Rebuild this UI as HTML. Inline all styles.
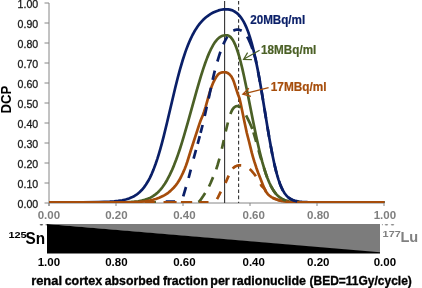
<!DOCTYPE html><html><head><meta charset="utf-8"><style>html,body{margin:0;padding:0;background:#fff;overflow:hidden}svg{display:block;will-change:transform}text{font-family:"Liberation Sans",sans-serif}</style></head><body>
<svg width="422" height="288" viewBox="0 0 422 288">
<line x1="49" y1="3" x2="49" y2="206" stroke="#868686" stroke-width="1"/>
<line x1="44.5" y1="3" x2="49" y2="3" stroke="#868686" stroke-width="1"/>
<text x="38.2" y="7.75" font-size="11.1" fill="#1a1a1a" stroke="#1a1a1a" stroke-width="0.3" text-anchor="end" textLength="20.6" lengthAdjust="spacingAndGlyphs">1.00</text>
<line x1="44.5" y1="23" x2="49" y2="23" stroke="#868686" stroke-width="1"/>
<text x="38.2" y="27.75" font-size="11.1" fill="#1a1a1a" stroke="#1a1a1a" stroke-width="0.3" text-anchor="end" textLength="20.6" lengthAdjust="spacingAndGlyphs">0.90</text>
<line x1="44.5" y1="43" x2="49" y2="43" stroke="#868686" stroke-width="1"/>
<text x="38.2" y="47.75" font-size="11.1" fill="#1a1a1a" stroke="#1a1a1a" stroke-width="0.3" text-anchor="end" textLength="20.6" lengthAdjust="spacingAndGlyphs">0.80</text>
<line x1="44.5" y1="63" x2="49" y2="63" stroke="#868686" stroke-width="1"/>
<text x="38.2" y="67.75" font-size="11.1" fill="#1a1a1a" stroke="#1a1a1a" stroke-width="0.3" text-anchor="end" textLength="20.6" lengthAdjust="spacingAndGlyphs">0.70</text>
<line x1="44.5" y1="83" x2="49" y2="83" stroke="#868686" stroke-width="1"/>
<text x="38.2" y="87.75" font-size="11.1" fill="#1a1a1a" stroke="#1a1a1a" stroke-width="0.3" text-anchor="end" textLength="20.6" lengthAdjust="spacingAndGlyphs">0.60</text>
<line x1="44.5" y1="103" x2="49" y2="103" stroke="#868686" stroke-width="1"/>
<text x="38.2" y="107.75" font-size="11.1" fill="#1a1a1a" stroke="#1a1a1a" stroke-width="0.3" text-anchor="end" textLength="20.6" lengthAdjust="spacingAndGlyphs">0.50</text>
<line x1="44.5" y1="123" x2="49" y2="123" stroke="#868686" stroke-width="1"/>
<text x="38.2" y="127.75" font-size="11.1" fill="#1a1a1a" stroke="#1a1a1a" stroke-width="0.3" text-anchor="end" textLength="20.6" lengthAdjust="spacingAndGlyphs">0.40</text>
<line x1="44.5" y1="143" x2="49" y2="143" stroke="#868686" stroke-width="1"/>
<text x="38.2" y="147.75" font-size="11.1" fill="#1a1a1a" stroke="#1a1a1a" stroke-width="0.3" text-anchor="end" textLength="20.6" lengthAdjust="spacingAndGlyphs">0.30</text>
<line x1="44.5" y1="163" x2="49" y2="163" stroke="#868686" stroke-width="1"/>
<text x="38.2" y="167.75" font-size="11.1" fill="#1a1a1a" stroke="#1a1a1a" stroke-width="0.3" text-anchor="end" textLength="20.6" lengthAdjust="spacingAndGlyphs">0.20</text>
<line x1="44.5" y1="183" x2="49" y2="183" stroke="#868686" stroke-width="1"/>
<text x="38.2" y="187.75" font-size="11.1" fill="#1a1a1a" stroke="#1a1a1a" stroke-width="0.3" text-anchor="end" textLength="20.6" lengthAdjust="spacingAndGlyphs">0.10</text>
<line x1="44.5" y1="203" x2="49" y2="203" stroke="#868686" stroke-width="1"/>
<text x="38.2" y="207.75" font-size="11.1" fill="#1a1a1a" stroke="#1a1a1a" stroke-width="0.3" text-anchor="end" textLength="20.6" lengthAdjust="spacingAndGlyphs">0.00</text>
<line x1="49" y1="203" x2="384.5" y2="203" stroke="#868686" stroke-width="1"/>
<line x1="49" y1="203" x2="49" y2="206" stroke="#868686" stroke-width="1"/>
<text x="48.9" y="218.8" font-size="11" font-weight="bold" fill="#7f7f7f" text-anchor="middle" textLength="22.4" lengthAdjust="spacingAndGlyphs">0.00</text>
<text x="48.9" y="265.6" font-size="11" font-weight="bold" fill="#000" text-anchor="middle" textLength="22.4" lengthAdjust="spacingAndGlyphs">1.00</text>
<line x1="116" y1="203" x2="116" y2="206" stroke="#868686" stroke-width="1"/>
<text x="116.4" y="218.8" font-size="11" font-weight="bold" fill="#7f7f7f" text-anchor="middle" textLength="22.4" lengthAdjust="spacingAndGlyphs">0.20</text>
<text x="116.4" y="265.6" font-size="11" font-weight="bold" fill="#000" text-anchor="middle" textLength="22.4" lengthAdjust="spacingAndGlyphs">0.80</text>
<line x1="183" y1="203" x2="183" y2="206" stroke="#868686" stroke-width="1"/>
<text x="184.4" y="218.8" font-size="11" font-weight="bold" fill="#7f7f7f" text-anchor="middle" textLength="22.4" lengthAdjust="spacingAndGlyphs">0.40</text>
<text x="184.4" y="265.6" font-size="11" font-weight="bold" fill="#000" text-anchor="middle" textLength="22.4" lengthAdjust="spacingAndGlyphs">0.60</text>
<line x1="250" y1="203" x2="250" y2="206" stroke="#868686" stroke-width="1"/>
<text x="253.7" y="218.8" font-size="11" font-weight="bold" fill="#7f7f7f" text-anchor="middle" textLength="22.4" lengthAdjust="spacingAndGlyphs">0.60</text>
<text x="253.7" y="265.6" font-size="11" font-weight="bold" fill="#000" text-anchor="middle" textLength="22.4" lengthAdjust="spacingAndGlyphs">0.40</text>
<line x1="317" y1="203" x2="317" y2="206" stroke="#868686" stroke-width="1"/>
<text x="318.3" y="218.8" font-size="11" font-weight="bold" fill="#7f7f7f" text-anchor="middle" textLength="22.4" lengthAdjust="spacingAndGlyphs">0.80</text>
<text x="318.3" y="265.6" font-size="11" font-weight="bold" fill="#000" text-anchor="middle" textLength="22.4" lengthAdjust="spacingAndGlyphs">0.20</text>
<line x1="384" y1="203" x2="384" y2="206" stroke="#868686" stroke-width="1"/>
<text x="384.9" y="218.8" font-size="11" font-weight="bold" fill="#7f7f7f" text-anchor="middle" textLength="22.4" lengthAdjust="spacingAndGlyphs">1.00</text>
<text x="384.9" y="265.6" font-size="11" font-weight="bold" fill="#000" text-anchor="middle" textLength="22.4" lengthAdjust="spacingAndGlyphs">0.00</text>
<text transform="translate(10.5,113.6) rotate(-90)" font-size="14.3" font-weight="bold" fill="#000" textLength="27.9" lengthAdjust="spacingAndGlyphs">DCP</text>
<line x1="224.6" y1="1" x2="224.6" y2="203" stroke="#333" stroke-width="1.1"/>
<line x1="238.6" y1="1" x2="238.6" y2="203" stroke="#333" stroke-width="1.1" stroke-dasharray="3.6,2.48"/>
<defs><clipPath id="pa"><rect x="40" y="-5" width="346" height="208.1"/></clipPath></defs><g clip-path="url(#pa)">
<path d="M49.00,202.30 L82.25,202.26 L98.50,202.09 L104.50,201.93 L109.75,201.68 L114.25,201.35 L118.25,200.91 L122.25,200.27 L125.75,199.48 L129.00,198.47 L131.75,197.36 L134.50,195.93 L137.00,194.30 L138.25,193.34 L139.50,192.27 L141.75,190.05 L144.00,187.37 L146.00,184.57 L148.00,181.31 L149.75,178.05 L151.75,173.81 L153.50,169.62 L155.50,164.28 L157.25,159.11 L158.75,154.30 L160.50,148.29 L162.00,142.80 L163.75,136.06 L167.00,122.76 L175.25,87.74 L177.75,77.78 L180.00,69.39 L182.75,60.00 L185.25,52.37 L186.50,48.87 L188.00,44.97 L189.25,41.94 L190.75,38.58 L192.50,35.01 L194.25,31.79 L196.00,28.90 L197.75,26.30 L199.75,23.66 L201.75,21.34 L203.75,19.29 L206.00,17.29 L208.25,15.56 L210.75,13.92 L213.25,12.54 L215.75,11.41 L218.50,10.43 L221.00,9.79 L223.50,9.38 L226.00,9.25 L228.00,9.36 L229.75,9.65 L231.50,10.12 L233.25,10.83 L235.00,11.78 L236.50,12.83 L238.00,14.13 L239.50,15.70 L241.00,17.57 L242.25,19.40 L243.75,21.93 L245.00,24.35 L246.25,27.08 L247.50,30.14 L248.75,33.56 L249.75,36.57 L251.75,43.33 L253.75,51.13 L255.75,60.00 L257.75,69.89 L259.50,79.31 L261.25,89.33 L267.50,127.35 L269.75,140.55 L272.25,154.01 L274.50,164.66 L276.00,170.88 L277.25,175.50 L278.50,179.61 L280.00,183.90 L281.25,186.97 L282.75,190.08 L284.25,192.65 L285.00,193.75 L286.00,195.05 L287.50,196.67 L289.00,197.96 L290.75,199.11 L292.50,199.98 L294.50,200.70 L296.50,201.20 L299.00,201.62 L302.00,201.92 L307.50,202.17 L316.00,202.28 L384.50,202.30" fill="none" stroke="#0A1F68" stroke-width="2.7" stroke-linejoin="round" stroke-linecap="butt"/>
<path d="M49.00,202.30 L117.50,202.26 L127.50,202.07 L131.25,201.90 L134.50,201.66 L138.25,201.24 L141.75,200.63 L144.75,199.88 L147.75,198.85 L150.50,197.61 L153.00,196.17 L155.50,194.38 L157.75,192.43 L159.00,191.19 L160.25,189.83 L161.50,188.34 L162.75,186.72 L165.00,183.45 L167.25,179.70 L169.50,175.44 L171.75,170.66 L174.00,165.35 L176.25,159.52 L178.00,154.64 L180.00,148.70 L182.00,142.41 L184.25,134.98 L188.00,121.91 L196.75,90.32 L199.00,82.52 L201.00,75.87 L203.25,68.81 L205.25,62.98 L207.25,57.63 L209.00,53.37 L211.25,48.55 L213.25,44.89 L214.25,43.29 L215.25,41.84 L216.25,40.55 L217.25,39.41 L218.25,38.42 L219.25,37.58 L220.25,36.88 L221.50,36.20 L222.50,35.80 L223.75,35.47 L225.00,35.30 L226.25,35.27 L227.25,35.34 L228.00,35.52 L228.75,35.81 L229.50,36.25 L230.25,36.83 L231.00,37.57 L232.25,39.16 L233.00,40.33 L233.75,41.68 L235.00,44.30 L236.50,48.07 L238.00,52.51 L239.25,56.69 L240.75,62.26 L242.25,68.36 L243.75,74.93 L246.75,89.17 L253.25,122.04 L256.25,136.63 L259.25,150.04 L260.75,156.17 L262.25,161.88 L264.00,167.98 L265.75,173.45 L267.50,178.30 L269.25,182.54 L271.00,186.20 L272.75,189.32 L273.75,190.88 L274.75,192.29 L275.75,193.56 L276.75,194.69 L278.50,196.38 L280.25,197.75 L282.25,198.98 L284.25,199.91 L286.50,200.68 L288.75,201.22 L291.50,201.66 L294.75,201.97 L300.00,202.20 L308.25,202.29 L384.50,202.30" fill="none" stroke="#4B6026" stroke-width="2.7" stroke-linejoin="round" stroke-linecap="butt"/>
<path d="M49.00,202.30 L124.22,202.28 L133.94,202.14 L139.77,201.81 L145.00,201.30 L147.44,200.95 L152.92,199.76 L155.83,198.94 L159.17,197.75 L162.92,196.06 L164.17,195.39 L165.82,194.40 L168.24,192.76 L170.48,190.86 L173.66,187.75 L175.73,185.40 L177.49,183.03 L179.06,180.58 L181.00,177.00 L183.08,172.65 L184.76,168.71 L186.00,165.50 L187.22,161.98 L190.80,150.50 L199.18,124.59 L200.62,120.57 L203.13,114.47 L204.20,111.50 L205.70,106.54 L208.20,97.52 L210.17,90.77 L211.77,86.22 L213.47,82.09 L214.72,79.60 L216.08,77.25 L217.52,75.19 L218.60,74.00 L219.69,73.21 L220.80,72.73 L222.28,72.40 L224.08,72.22 L225.16,72.27 L225.87,72.39 L227.20,72.80 L228.42,73.47 L229.56,74.39 L230.84,75.80 L231.73,77.07 L232.77,79.03 L233.65,81.15 L238.00,94.50 L239.17,97.43 L239.69,99.18 L240.62,103.26 L244.37,121.59 L246.83,132.98 L248.90,141.00 L251.76,152.64 L253.06,157.30 L254.44,161.91 L256.24,167.45 L258.03,172.48 L263.04,185.15 L264.31,188.20 L265.58,190.86 L266.41,192.27 L267.63,193.90 L268.44,194.75 L269.26,195.48 L271.46,197.12 L272.85,197.94 L274.81,198.82 L278.19,199.98 L281.42,200.84 L284.26,201.39 L287.24,201.77 L290.38,202.01 L298.47,202.29 L384.50,202.30" fill="none" stroke="#A64D0B" stroke-width="2.7" stroke-linejoin="round" stroke-linecap="butt"/>
<path d="M165.65,201.60 L175.10,201.61 M183.22,196.35 L186.00,187.00 M188.60,178.00 L190.79,169.60 M193.60,158.60 L195.99,149.97 M197.66,143.84 L199.75,136.06 M200.58,132.88 L202.62,124.99 M204.71,116.03 L206.76,106.83 M208.66,98.49 L210.97,87.81 M212.66,79.86 L213.79,74.85 L214.82,70.66 M217.40,61.50 L219.01,56.14 L220.45,51.78 M223.30,44.30 L224.48,41.80 L225.41,40.01 L226.36,38.34 L227.32,36.80 M233.33,30.67 L234.33,30.23 L235.33,29.90 L236.35,29.72 L237.37,29.66 L238.36,29.72 L239.62,29.92 L240.52,30.20 L241.67,30.71 M247.19,36.67 L248.62,39.45 L250.03,42.62 L251.24,45.64 L252.45,49.04 M254.00,53.94 L255.50,58.83 L256.46,63.41 M258.16,72.05 L259.92,81.69 M261.42,90.36 L263.04,100.03 M264.46,108.71 L266.03,118.39 M267.45,127.07 L269.08,136.73 M270.62,145.40 L272.45,155.02 M274.27,163.63 L275.50,168.88 L276.60,173.15 M279.16,181.57 L280.00,183.90 L281.00,186.39 L282.00,188.60 L283.01,190.57 M288.39,197.47 L289.25,198.14 L290.25,198.82 L292.25,199.87 L294.50,200.70 L297.26,201.35" fill="none" stroke="#0A1F68" stroke-width="2.7" stroke-linejoin="round" stroke-linecap="butt"/>
<path d="M146.15,202.30 L155.95,202.30 M164.75,202.30 L175.69,202.30 M181.76,202.30 L191.61,202.31 M198.22,201.93 L198.72,201.72 L199.17,201.45 L199.74,200.98 L200.17,200.50 L203.40,195.78 L205.20,193.00 M208.98,186.53 L210.51,183.29 L213.09,177.11 M216.20,169.30 L217.76,164.49 L219.43,158.67 M221.89,148.69 L223.80,140.00 M225.70,131.50 L227.90,122.50 M230.40,114.00 L231.56,111.24 L232.54,109.41 L233.56,107.99 L234.08,107.46 L234.88,106.86 L235.42,106.57 L236.23,106.27 L237.03,106.12 L237.57,106.12 L238.37,106.26 L239.17,106.54 L239.96,106.95 L240.74,107.48 M246.07,115.31 L248.07,119.31 L249.74,122.88 L251.31,126.46 L252.30,129.00 M253.44,132.37 L255.00,137.50 L256.21,141.77 M258.53,150.26 L260.00,155.50 L261.31,159.65 M264.00,168.03 L265.75,173.45 L267.13,177.32 M270.60,185.40 L272.00,188.05 L273.25,190.12 L274.50,191.95 L275.83,193.65 M282.62,199.17 L284.25,199.91 L286.00,200.53" fill="none" stroke="#4B6026" stroke-width="2.7" stroke-linejoin="round" stroke-linecap="butt"/>
<path d="M144.92,202.30 L154.72,202.30 M163.52,202.30 L176.60,202.30 M180.93,202.30 L192.19,202.30 M199.37,202.30 L208.51,202.31 M216.99,199.17 L217.99,197.28 L220.80,191.60 M225.48,182.96 L228.70,175.60 M232.72,168.62 L233.35,167.94 L234.32,167.13 L235.30,166.50 L236.64,165.86 L237.67,165.53 L238.73,165.35 L239.79,165.29 L241.20,165.35 M249.70,169.10 L250.93,170.17 L251.99,171.31 L254.01,173.74 L255.90,176.30 M260.56,184.07 L261.50,185.80 L264.74,189.15 L265.58,190.86 L266.22,191.95 M272.64,197.83 L274.31,198.62 L277.00,199.60 L279.44,200.34 L281.90,200.94" fill="none" stroke="#A64D0B" stroke-width="2.7" stroke-linejoin="round" stroke-linecap="butt"/>
</g>
<text x="250.2" y="23.7" font-size="11.9" font-weight="bold" fill="#0A1F68" stroke="#0A1F68" stroke-width="0.2" textLength="55" lengthAdjust="spacingAndGlyphs">20MBq/ml</text>
<text x="261.1" y="54" font-size="11.9" font-weight="bold" fill="#4B6026" stroke="#4B6026" stroke-width="0.2" textLength="55.2" lengthAdjust="spacingAndGlyphs">18MBq/ml</text>
<text x="270.8" y="91" font-size="11.9" font-weight="bold" fill="#A64D0B" stroke="#A64D0B" stroke-width="0.2" textLength="55.8" lengthAdjust="spacingAndGlyphs">17MBq/ml</text>
<path d="M259.6,50.3 L243.6,59.3 M247.6,52.6 L243.6,59.3 L251.9,59.6" fill="none" stroke="#4B6026" stroke-width="1.25" stroke-linejoin="miter"/>
<path d="M268.6,87.6 L242.8,94.1 M248.9,88.2 L242.8,94.1 L250.9,96.4" fill="none" stroke="#A64D0B" stroke-width="1.25" stroke-linejoin="miter"/>
<ellipse cx="41.4" cy="224.7" rx="1.8" ry="0.8" fill="#555"/><ellipse cx="46.3" cy="224.8" rx="0.8" ry="0.7" fill="#666"/>
<ellipse cx="382.4" cy="224.7" rx="0.6" ry="0.6" fill="#999"/><ellipse cx="386.4" cy="224.8" rx="1.8" ry="0.8" fill="#8a8a8a"/><ellipse cx="392.5" cy="224.8" rx="1.8" ry="0.8" fill="#8a8a8a"/>
<polygon points="47,224 380,224 380,253" fill="#7c7c7c"/>
<polygon points="47,224 380,252.3 380,253.4 47,253.4" fill="#000"/>
<text x="8.4" y="237.8" font-weight="bold" font-size="9" fill="#000" textLength="18.3" lengthAdjust="spacingAndGlyphs">125</text><text x="25.6" y="244" font-weight="bold" font-size="16.5" fill="#000" textLength="19.6" lengthAdjust="spacingAndGlyphs">Sn</text>
<text x="382.6" y="237" font-weight="bold" font-size="9" fill="#808080" textLength="18.2" lengthAdjust="spacingAndGlyphs">177</text><text x="400.4" y="241.8" font-weight="bold" font-size="15.2" fill="#808080" textLength="17.8" lengthAdjust="spacingAndGlyphs">Lu</text>
<text x="31.16" y="285.4" font-size="12.7" font-weight="bold" fill="#000" stroke="#000" stroke-width="0.35" textLength="30.86" lengthAdjust="spacingAndGlyphs">renal</text>
<text x="64.65" y="285.4" font-size="12.7" font-weight="bold" fill="#000" stroke="#000" stroke-width="0.35" textLength="37.46" lengthAdjust="spacingAndGlyphs">cortex</text>
<text x="104.74" y="285.4" font-size="12.7" font-weight="bold" fill="#000" stroke="#000" stroke-width="0.35" textLength="55.27" lengthAdjust="spacingAndGlyphs">absorbed</text>
<text x="162.92" y="285.4" font-size="12.7" font-weight="bold" fill="#000" stroke="#000" stroke-width="0.35" textLength="45.08" lengthAdjust="spacingAndGlyphs">fraction</text>
<text x="210.28" y="285.4" font-size="12.7" font-weight="bold" fill="#000" stroke="#000" stroke-width="0.35" textLength="19.47" lengthAdjust="spacingAndGlyphs">per</text>
<text x="231.99" y="285.4" font-size="12.7" font-weight="bold" fill="#000" stroke="#000" stroke-width="0.35" textLength="73.91" lengthAdjust="spacingAndGlyphs">radionuclide</text>
<text x="309.49" y="285.4" font-size="12.7" font-weight="bold" fill="#000" stroke="#000" stroke-width="0.35" textLength="102.38" lengthAdjust="spacingAndGlyphs">(BED=11Gy/cycle)</text>
</svg></body></html>
